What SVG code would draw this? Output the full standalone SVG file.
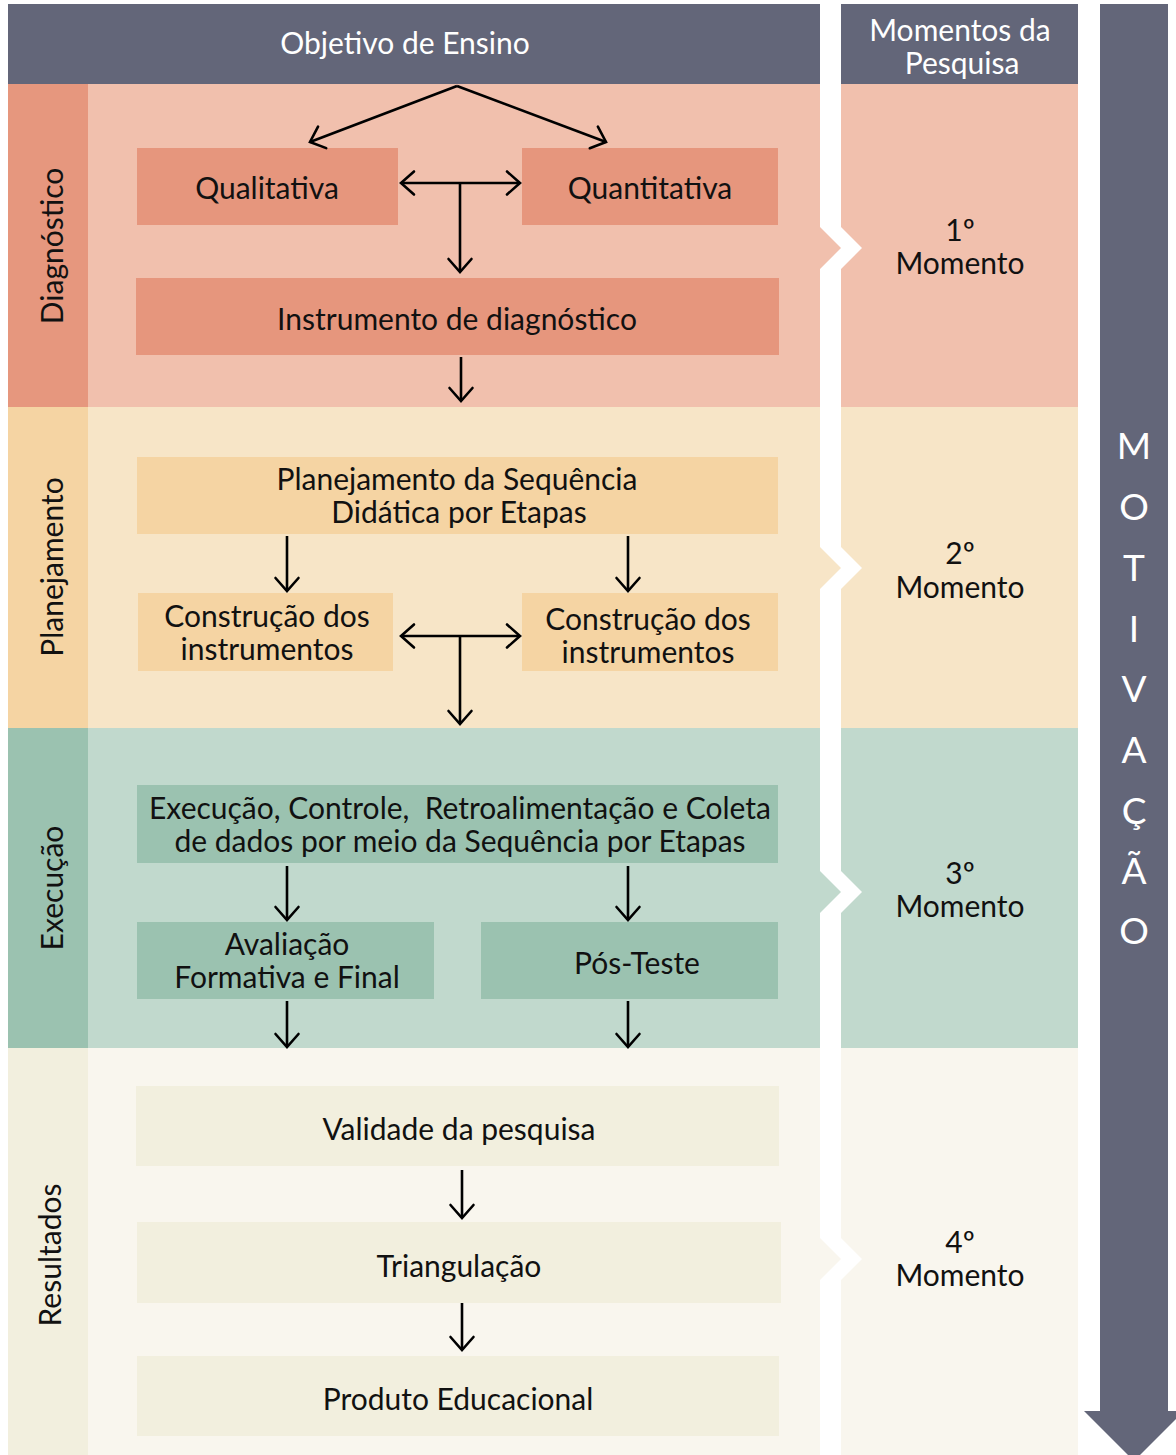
<svg xmlns="http://www.w3.org/2000/svg" width="1176" height="1455" viewBox="0 0 1176 1455">
<defs>
<marker id="ah" markerUnits="userSpaceOnUse" markerWidth="30" markerHeight="30" viewBox="-15 -15 30 30" refX="0" refY="0" orient="auto-start-reverse">
<path d="M-13,-11.5 L0,0 L-13,11.5" fill="none" stroke="#000" stroke-width="2.6" stroke-linecap="round" stroke-linejoin="miter"/>
</marker>
</defs>
<style>
text{font-family:Lato,"Open Sans","Liberation Sans",sans-serif;}
.t{font-size:30px;fill:#111;text-anchor:middle;}
.w{font-size:30px;fill:#fff;text-anchor:middle;}
.m{font-size:37px;fill:#fff;text-anchor:middle;}
.hd{fill:#636679;}
.c{stroke:#000;stroke-width:2.6;fill:none;}
.ca{stroke:#000;stroke-width:2.6;fill:none;marker-end:url(#ah);}
.cb{stroke:#000;stroke-width:2.6;fill:none;marker-end:url(#ah);marker-start:url(#ah);}
</style>
<rect width="1176" height="1455" fill="#fff"/>

<g id="header-objetivo"><rect class="hd" x="8" y="4" width="812" height="80"/><text class="w" x="405" y="54">Objetivo de Ensino</text></g>
<g id="header-momentos"><rect class="hd" x="841" y="4" width="237" height="80"/><text class="w" x="960" y="41">Momentos da</text><text class="w" x="962" y="74">Pesquisa</text></g>

<g id="motivacao">
<polygon class="hd" points="1100,4 1168,4 1168,1411 1184,1411 1134,1461 1084,1411 1100,1411"/>
<text class="m" x="1134" y="459">M</text>
<text class="m" x="1134" y="520">O</text>
<text class="m" x="1134" y="581">T</text>
<text class="m" x="1134" y="642">I</text>
<text class="m" x="1134" y="702">V</text>
<text class="m" x="1134" y="763">A</text>
<text class="m" x="1134" y="824">Ç</text>
<text class="m" x="1134" y="884">Ã</text>
<text class="m" x="1134" y="944">O</text>
</g>

<g id="band-diagnostico">
<polygon fill="#F1C0AD" points="8,84 820,84 820,227 841,248 820,269 820,407 8,407"/>
<rect x="8" y="84" width="80" height="323" fill="#E6977E"/>
<text class="t" transform="translate(63,246) rotate(-90)">Diagnóstico</text>
<polygon fill="#F1C0AD" points="841,84 1078,84 1078,407 841,407 841,269 862,248 841,227"/>
<text class="t" x="960" y="241">1º</text><text class="t" x="960" y="274">Momento</text>
</g>
<g id="band-planejamento">
<polygon fill="#F7E5C7" points="8,407 820,407 820,547 841,568 820,589 820,728 8,728"/>
<rect x="8" y="407" width="80" height="321" fill="#F5D4A3"/>
<text class="t" transform="translate(63,567) rotate(-90)">Planejamento</text>
<polygon fill="#F7E5C7" points="841,407 1078,407 1078,728 841,728 841,589 862,568 841,547"/>
<text class="t" x="960" y="564">2º</text><text class="t" x="960" y="598">Momento</text>
</g>
<g id="band-execucao">
<polygon fill="#C1D9CD" points="8,728 820,728 820,871 841,892 820,913 820,1048 8,1048"/>
<rect x="8" y="728" width="80" height="320" fill="#9BC2B0"/>
<text class="t" transform="translate(63,888) rotate(-90)">Execução</text>
<polygon fill="#C1D9CD" points="841,728 1078,728 1078,1048 841,1048 841,913 862,892 841,871"/>
<text class="t" x="960" y="884">3º</text><text class="t" x="960" y="917">Momento</text>
</g>
<g id="band-resultados">
<polygon fill="#F9F6EE" points="8,1048 820,1048 820,1238 841,1259 820,1280 820,1455 8,1455"/>
<rect x="8" y="1048" width="80" height="407" fill="#F2EFDE"/>
<text class="t" transform="translate(61,1255) rotate(-90)">Resultados</text>
<polygon fill="#F9F6EE" points="841,1048 1078,1048 1078,1455 841,1455 841,1280 862,1259 841,1238"/>
<text class="t" x="960" y="1253">4º</text><text class="t" x="960" y="1286">Momento</text>
</g>

<g id="n-qualitativa"><rect x="137" y="148" width="261" height="77" fill="#E6967D"/><text class="t" x="267" y="199">Qualitativa</text></g>
<g id="n-quantitativa"><rect x="522" y="148" width="256" height="77" fill="#E6967D"/><text class="t" x="650" y="199">Quantitativa</text></g>
<g id="n-instrumento"><rect x="136" y="278" width="643" height="77" fill="#E6967D"/><text class="t" x="457" y="330">Instrumento de diagnóstico</text></g>

<g id="n-planejamento-seq"><rect x="137" y="457" width="641" height="77" fill="#F5D4A3"/><text class="t" x="457" y="490">Planejamento da Sequência</text><text class="t" x="459" y="523">Didática por Etapas</text></g>
<g id="n-construcao1"><rect x="138" y="593" width="255" height="78" fill="#F5D4A3"/><text class="t" x="267" y="627">Construção dos</text><text class="t" x="267" y="660">instrumentos</text></g>
<g id="n-construcao2"><rect x="522" y="593" width="256" height="78" fill="#F5D4A3"/><text class="t" x="648" y="630">Construção dos</text><text class="t" x="648" y="663">instrumentos</text></g>

<g id="n-execucao"><rect x="137" y="785" width="641" height="78" fill="#9BC2B0"/><text class="t" x="460" y="819" xml:space="preserve">Execução, Controle,  Retroalimentação e Coleta</text><text class="t" x="460" y="852">de dados por meio da Sequência por Etapas</text></g>
<g id="n-avaliacao"><rect x="137" y="922" width="297" height="77" fill="#9BC2B0"/><text class="t" x="287" y="955">Avaliação</text><text class="t" x="287" y="988">Formativa e Final</text></g>
<g id="n-posteste"><rect x="481" y="922" width="297" height="77" fill="#9BC2B0"/><text class="t" x="637" y="974">Pós-Teste</text></g>

<g id="n-validade"><rect x="136" y="1086" width="643" height="80" fill="#F2EFDE"/><text class="t" x="459" y="1140">Validade da pesquisa</text></g>
<g id="n-triangulacao"><rect x="137" y="1222" width="644" height="81" fill="#F2EFDE"/><text class="t" x="459" y="1277">Triangulação</text></g>
<g id="n-produto"><rect x="137" y="1356" width="642" height="80" fill="#F2EFDE"/><text class="t" x="458" y="1410">Produto Educacional</text></g>

<g id="connectors">
<polyline class="ca" points="457,86 310,142"/>
<polyline class="ca" points="457,86 606,142"/>
<line class="cb" x1="401" y1="183" x2="520" y2="183"/>
<line class="ca" x1="460" y1="183" x2="460" y2="272"/>
<line class="ca" x1="461" y1="357" x2="461" y2="401"/>
<line class="ca" x1="287" y1="536" x2="287" y2="591"/>
<line class="ca" x1="628" y1="536" x2="628" y2="591"/>
<line class="cb" x1="401" y1="636" x2="520" y2="636"/>
<line class="ca" x1="460" y1="636" x2="460" y2="724"/>
<line class="ca" x1="287" y1="866" x2="287" y2="920"/>
<line class="ca" x1="628" y1="866" x2="628" y2="920"/>
<line class="ca" x1="287" y1="1001" x2="287" y2="1047"/>
<line class="ca" x1="628" y1="1001" x2="628" y2="1047"/>
<line class="ca" x1="462" y1="1170" x2="462" y2="1218"/>
<line class="ca" x1="462" y1="1303" x2="462" y2="1350"/>
</g>
</svg>
